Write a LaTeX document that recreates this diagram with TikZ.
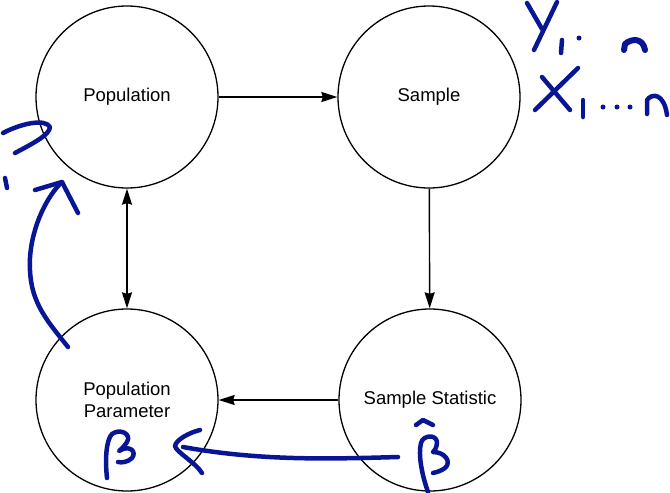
\documentclass[tikz,border=0pt]{standalone}
\usepackage{fontspec}
\setmainfont{Liberation Sans}
\usetikzlibrary{arrows.meta,positioning}
\definecolor{inkblue}{RGB}{8,22,150}
\tikzset{
  stage/.style={draw, circle, line width=1.3pt, minimum size=182pt, inner sep=0pt,
    align=center, font=\fontsize{18.5}{22}\selectfont},
  flow/.style={line width=1.4pt, -{Stealth[length=16pt,width=10pt,inset=1.5pt]}},
  ink/.style={inkblue, line width=4.5pt, line cap=round, line join=round}
}

\begin{document}
\begin{tikzpicture}[x=1pt,y=-1pt]
        \useasboundingbox (0,0) rectangle (670,493);

        % Draw the four stages
        \node[stage] (pop) at (127,97) {Population};
        \node[stage] (samp) at (429,97) {Sample};
        \node[stage] (param) at (127,400) {Population\\Parameter};
        \node[stage] (stat) at (430,400) {Sample Statistic};

        % Connect the stages
        \draw[flow] (pop) -- (samp);
        \draw[flow] (samp) -- (stat);
        \draw[flow] (stat) -- (param);
        \draw[flow, {Stealth[length=16pt,width=10pt,inset=1.5pt]}-{Stealth[length=16pt,width=10pt,inset=1.5pt]}] (pop) -- (param);

        % Handwritten notes: Y_1..n and X_1...n
        \draw[ink] (527,3) -- (542,29);
        \draw[ink] (557,2) -- (534,50);
        \draw[ink] (562,40) -- (561,53);
        \fill[inkblue] (579,38) circle (2.5);
        \draw[ink, line width=6pt] (624,50) -- (625,44) .. controls (632,38) and (643,38) .. (645,50);
        \draw[ink] (542,77) -- (570,110);
        \draw[ink] (578,68) -- (535,110);
        \draw[ink] (583,100) -- (583,117);
        \foreach \d in {603,617,630}
          \fill[inkblue] (\d,107) circle (2.5);
        \draw[ink] (647,114) -- (647,100) .. controls (652,93) and (664,93) .. (667,115);

        % Handwritten question mark and arrow up to the population
        \draw[ink] (3,133) .. controls (20,124) and (45,118) .. (50,127)
          .. controls (50,135) and (30,145) .. (15,153);
        \draw[ink] (5,178) -- (7,188);
        \draw[ink] (68,347) .. controls (45,318) and (28,300) .. (30,258)
          .. controls (32,225) and (48,195) .. (62,182);
        \draw[ink] (35,190) -- (62,182) -- (78,213);

        % Handwritten beta and beta hat
        \draw[ink] (107,478) .. controls (105,460) and (106,440) .. (112,434)
          .. controls (120,428) and (132,434) .. (127,442)
          .. controls (124,447) and (120,450) .. (119,451)
          .. controls (130,444) and (137,452) .. (132,458)
          .. controls (128,462) and (122,463) .. (118,462);
        \draw[ink] (416,425) -- (423,420) -- (433,425);
        \draw[ink] (428,492) .. controls (422,475) and (418,455) .. (421,443)
          .. controls (423,435) and (436,434) .. (437,442)
          .. controls (437,448) and (434,451) .. (433,452)
          .. controls (445,452) and (452,462) .. (445,468)
          .. controls (441,471) and (437,472) .. (433,473);

        % Handwritten arrow from beta hat back to beta
        \draw[ink] (398,457) .. controls (330,459) and (260,461) .. (183,447);
        \draw[ink] (200,430) .. controls (188,433) and (176,440) .. (175,446)
          .. controls (176,452) and (195,462) .. (202,473);
\end{tikzpicture}
\end{document}
